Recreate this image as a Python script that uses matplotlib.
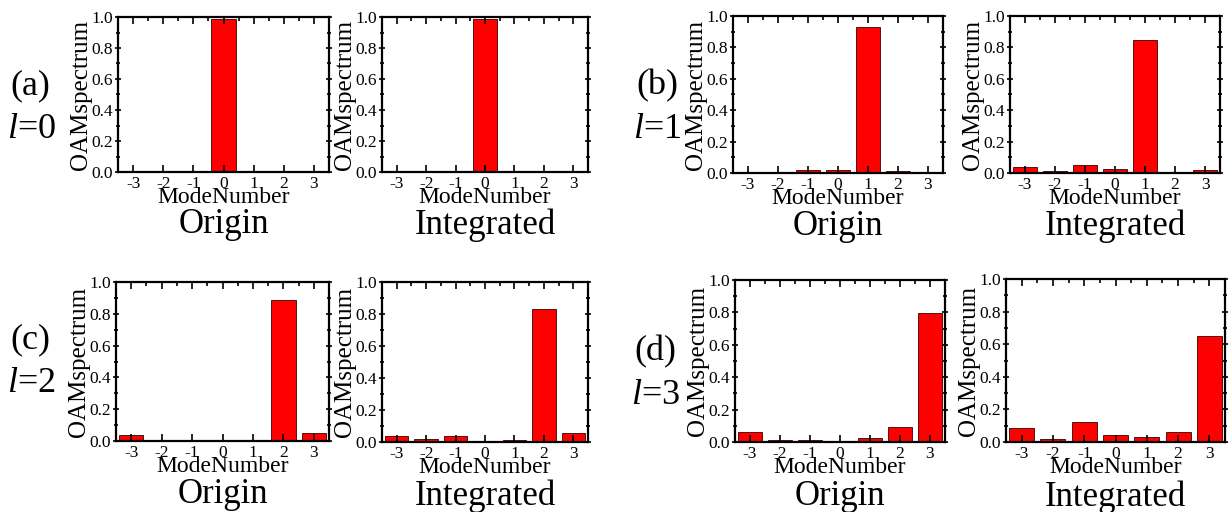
import matplotlib
matplotlib.use('Agg')
import matplotlib.pyplot as plt
import numpy as np
from matplotlib.ticker import MultipleLocator

plt.rcParams['font.family'] = ['Liberation Serif', 'DejaVu Serif']
plt.rcParams['mathtext.fontset'] = 'custom'
plt.rcParams['mathtext.it'] = 'Liberation Serif:italic'
plt.rcParams['mathtext.rm'] = 'Liberation Serif'

modes = [-3, -2, -1, 0, 1, 2, 3]

# OAM spectra, original beam vs integrated
a_origin = [0.0, 0.0, 0.0, 0.99, 0.0, 0.0, 0.0]
a_integrated = [0.0, 0.0, 0.0, 0.99, 0.0, 0.0, 0.0]
b_origin = [0.005, 0.002, 0.02, 0.02, 0.93, 0.015, 0.005]
b_integrated = [0.04, 0.015, 0.05, 0.025, 0.85, 0.005, 0.022]
c_origin = [0.04, 0.003, 0.008, 0.008, 0.008, 0.885, 0.048]
c_integrated = [0.04, 0.02, 0.035, 0.008, 0.012, 0.83, 0.055]
d_origin = [0.06, 0.015, 0.015, 0.003, 0.022, 0.09, 0.795]
d_integrated = [0.087, 0.02, 0.12, 0.042, 0.03, 0.06, 0.65]

W, H = 1232, 512
fig = plt.figure(figsize=(W / 100, H / 100), dpi=100)


def make_axes(x0, x1, y0, y1):
    return fig.add_axes([x0 / W, 1 - y1 / H, (x1 - x0) / W, (y1 - y0) / H])


def spectrum(ax, vals, title):
    ax.bar(modes, vals, width=0.8, color='#ff0000', edgecolor='#3a0000', linewidth=0.6)
    ax.set_xlim(-3.5, 3.5)
    ax.set_ylim(0, 1.0)
    ax.set_xticks(modes)
    ax.set_xticklabels([str(m) for m in modes])
    ax.yaxis.set_major_locator(MultipleLocator(0.2))
    ax.yaxis.set_minor_locator(MultipleLocator(0.1))
    ax.xaxis.set_minor_locator(MultipleLocator(0.5))
    ax.yaxis.set_major_formatter(matplotlib.ticker.FormatStrFormatter('%.1f'))
    ax.tick_params(which='both', top=True, right=True, labelsize=12.5, width=1.2)
    ax.tick_params(axis='x', which='both', direction='in')
    ax.tick_params(axis='y', which='both', direction='inout')
    ax.tick_params(which='major', length=5, pad=1)
    ax.tick_params(which='minor', length=3)
    ax.tick_params(axis='x', which='major', pad=3)
    ax.tick_params(axis='x', which='minor', bottom=False)
    for s in ax.spines.values():
        s.set_linewidth(1.6)
    ax.set_ylabel('OAMspectrum', fontsize=18, labelpad=0)
    ax.set_xlabel('ModeNumber', fontsize=17, labelpad=-4)
    ax.text(0.5, -0.235, title, transform=ax.transAxes, ha='center', va='top', fontsize=25)


panels = [
    (a_origin, 'Origin', (118, 329, 17, 172)),
    (a_integrated, 'Integrated', (382, 588, 17, 172)),
    (b_origin, 'Origin', (733, 943, 16, 173)),
    (b_integrated, 'Integrated', (1010, 1220, 16, 173)),
    (c_origin, 'Origin', (116, 329, 282, 441)),
    (c_integrated, 'Integrated', (382, 588, 282, 442)),
    (d_origin, 'Origin', (735, 945, 280, 442)),
    (d_integrated, 'Integrated', (1006, 1225, 279, 442)),
]
for vals, title, box in panels:
    spectrum(make_axes(*box), vals, title)

# panel tags
tags = [('(a)', '0', 10, 86), ('(b)', '1', 636, 86), ('(c)', '2', 10, 340), ('(d)', '3', 634, 352)]
for tag, l, px, py in tags:
    fig.text(px / W, 1 - py / H, tag, fontsize=26, va='center', ha='left')
    fig.text((px - 3) / W, 1 - (py + 44) / H, r'$\mathit{l}$=' + l, fontsize=26, va='center', ha='left')

fig.savefig('out.png', dpi=100)
